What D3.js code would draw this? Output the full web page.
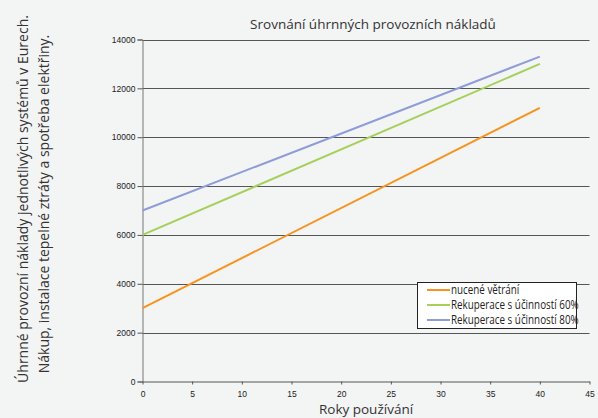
<!DOCTYPE html>
<html><head><meta charset="utf-8">
<script src="https://cdn.jsdelivr.net/npm/d3@7"></script>
<style>
html,body{margin:0;padding:0;background:#f3f4f4;}
svg{display:block;}
</style></head>
<body><svg id="c" width="598" height="418"></svg>
<script>
const years = [0, 40];
const seriesNames = ["nucené větrání", "Rekuperace s účinností 60%", "Rekuperace s účinností 80%"];
const nuceneVetrani = [3000, 11200];
const rekuperace60 = [6000, 13000];
const rekuperace80 = [7000, 13300];
const seriesColors = ["#F7931E", "#A6CF5B", "#8E9CD8"];
const xTicks = [0, 5, 10, 15, 20, 25, 30, 35, 40, 45];
const yTicks = [0, 2000, 4000, 6000, 8000, 10000, 12000, 14000];
const title = "Srovnání úhrnných provozních nákladů";
const xTitle = "Roky používání";
const yTitle1 = "Úhrnné provozní náklady jednotlivých systémů v Eurech.";
const yTitle2 = "Nákup, instalace tepelné ztráty a spotřeba elektřiny.";

const svg = d3.select("#c");
const x = d3.scaleLinear().domain([0, 45]).range([142.5, 589.5]);
const y = d3.scaleLinear().domain([0, 14000]).range([381.5, 39.5]);

// gridlines
svg.append("g").selectAll("line").data(yTicks.filter(d => d > 0)).join("line")
  .attr("x1", x(0)).attr("x2", x(45)).attr("y1", d => Math.round(y(d)) + 0.5).attr("y2", d => Math.round(y(d)) + 0.5)
  .attr("stroke", "#555").attr("stroke-width", 1);

// axes
const yAxis = d3.axisLeft(y).tickValues(yTicks).tickFormat(d3.format("d")).tickSize(5).tickPadding(2);
const gy = svg.append("g").attr("transform", `translate(${x(0)},0)`).call(yAxis);
gy.select(".domain").attr("stroke", "#777");
gy.selectAll(".tick line").attr("stroke", "#555");
gy.selectAll("text").attr("font-family", "Liberation Sans, Arial, sans-serif").attr("font-size", 8.5).attr("fill", "#222");

const xAxis = d3.axisBottom(x).tickValues(xTicks).tickFormat(d3.format("d")).tickSize(3).tickPadding(6).tickSizeOuter(0);
const gx = svg.append("g").attr("transform", `translate(0,${y(0)})`).call(xAxis);
gx.select(".domain").attr("stroke", "#555");
gx.selectAll(".tick line").attr("stroke", "#555");
gx.selectAll("text").attr("font-family", "Liberation Sans, Arial, sans-serif").attr("font-size", 8.5).attr("fill", "#222");

// lines
const allSeries = [nuceneVetrani, rekuperace60, rekuperace80];
const line = d3.line().x((d, i) => x(years[i])).y(d => y(d));
svg.append("g").selectAll("path").data(allSeries).join("path")
  .attr("d", d => line(d)).attr("fill", "none")
  .attr("stroke", (d, i) => seriesColors[i]).attr("stroke-width", 2);

// legend
const lg = svg.append("g");
lg.append("rect").attr("x", 417.5).attr("y", 282.5).attr("width", 159).attr("height", 46)
  .attr("fill", "#ffffff").attr("stroke", "#222").attr("stroke-width", 1);
seriesNames.forEach((n, i) => {
  const yy = 290 + i * 15;
  lg.append("line").attr("x1", 427).attr("x2", 450).attr("y1", yy).attr("y2", yy)
    .attr("stroke", seriesColors[i]).attr("stroke-width", 2);
  lg.append("text").attr("transform", `translate(451,${yy + 4}) scale(0.82,1)`).text(n)
    .attr("font-family", "Open Sans, sans-serif").attr("font-size", 12).attr("fill", "#222");
});

// titles
svg.append("text").attr("x", 373).attr("y", 29).attr("text-anchor", "middle").text(title)
  .attr("font-family", "Open Sans, sans-serif").attr("font-size", 13.5).attr("fill", "#333");
svg.append("text").attr("x", 366).attr("y", 414).attr("text-anchor", "middle").text(xTitle)
  .attr("font-family", "Open Sans, sans-serif").attr("font-size", 13.5).attr("fill", "#333");
svg.append("text").attr("transform", "translate(28,199) rotate(-90)").attr("text-anchor", "middle").text(yTitle1)
  .attr("font-family", "Open Sans, sans-serif").attr("font-size", 14).attr("fill", "#333");
svg.append("text").attr("transform", "translate(49,204) rotate(-90)").attr("text-anchor", "middle").text(yTitle2)
  .attr("font-family", "Open Sans, sans-serif").attr("font-size", 14).attr("fill", "#333");
</script></body></html>
